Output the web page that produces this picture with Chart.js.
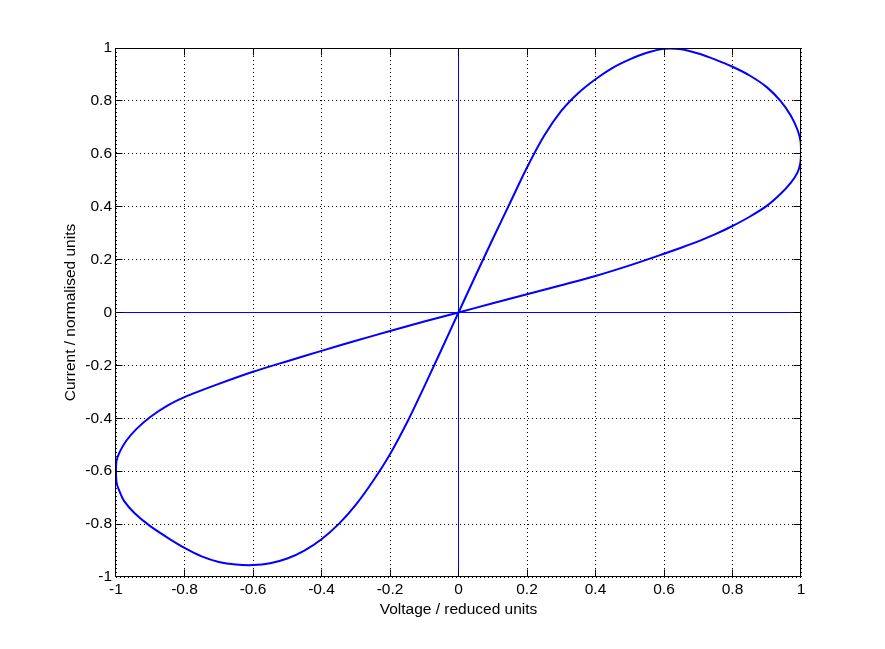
<!DOCTYPE html>
<html>
<head>
<meta charset="utf-8">
<script src="https://cdn.jsdelivr.net/npm/chart.js@4/dist/chart.umd.min.js"></script>
<style>
html,body{margin:0;padding:0;background:#fff;}
#c{display:block;}
</style>
</head>
<body>
<canvas id="c" width="885" height="649"></canvas>
<script>
// Pinched hysteresis loop
const curveX = [0, 0.05, 0.1, 0.15, 0.2, 0.25, 0.3, 0.35, 0.4, 0.45, 0.5, 0.55, 0.6, 0.65, 0.7, 0.75, 0.8, 0.85, 0.9, 0.94, 0.97, 0.99, 0.999, 1.0,
  0.998, 0.99, 0.97, 0.94, 0.9, 0.85, 0.8, 0.75, 0.7, 0.65, 0.6, 0.5, 0.4, 0.3, 0.2, 0.1, 0,
  -0.1, -0.2, -0.3, -0.4, -0.5, -0.6, -0.7, -0.8, -0.85, -0.9, -0.94, -0.97, -0.99, -0.999, -1.0,
  -0.998, -0.99, -0.976, -0.947, -0.903, -0.85, -0.8, -0.75, -0.7, -0.65, -0.6, -0.55, -0.5, -0.45, -0.4, -0.35, -0.3, -0.25, -0.2, -0.15, -0.1, -0.05, 0];
const curveY = [0, 0.14, 0.278, 0.413, 0.548, 0.668, 0.762, 0.83, 0.882, 0.925, 0.957, 0.982, 0.997, 0.995, 0.979, 0.956, 0.929, 0.896, 0.852, 0.8, 0.745, 0.69, 0.645, 0.6,
  0.565, 0.53, 0.49, 0.448, 0.403, 0.362, 0.327, 0.296, 0.269, 0.245, 0.222, 0.178, 0.138, 0.103, 0.069, 0.035, 0,
  -0.034, -0.07, -0.107, -0.145, -0.184, -0.224, -0.27, -0.32, -0.352, -0.395, -0.44, -0.485, -0.53, -0.565, -0.605,
  -0.645, -0.675, -0.713, -0.757, -0.805, -0.851, -0.89, -0.922, -0.943, -0.953, -0.955, -0.948, -0.93, -0.9, -0.857, -0.8, -0.727, -0.638, -0.536, -0.415, -0.28, -0.141, 0];
const xTicks = [-1, -0.8, -0.6, -0.4, -0.2, 0, 0.2, 0.4, 0.6, 0.8, 1];
const yTicks = [-1, -0.8, -0.6, -0.4, -0.2, 0, 0.2, 0.4, 0.6, 0.8, 1];
const xAxisLineX = [-1, 1];
const xAxisLineY = [0, 0];
const yAxisLineX = [0, 0];
const yAxisLineY = [-1, 1];
const xTitle = 'Voltage / reduced units';
const yTitle = 'Current / normalised units';

const toPts = (xs, ys) => xs.map((x, i) => ({x: x, y: ys[i]}));
const FONT = {family: '"Liberation Sans", Arial, Helvetica, sans-serif', size: 15.5};
const fmt = v => { const n = Math.round(v * 10) / 10; return (n === 0 ? 0 : n).toString(); };
const gridColor = c => (c.tick && Math.abs(c.tick.value) < 1e-9) ? 'rgba(0,0,0,0)' : '#000';

const boxPlugin = {
  id: 'boxTicks',
  afterDraw(chart) {
    const {ctx, chartArea: a, scales: {x, y}} = chart;
    ctx.save();
    ctx.strokeStyle = '#000';
    ctx.lineWidth = 1;
    ctx.beginPath();
    const L = Math.round(a.left) - 0.5, R = Math.round(a.right) - 0.5;
    const T = Math.round(a.top) + 0.5, B = Math.round(a.bottom) - 0.5;
    ctx.rect(L, T, R - L, B - T);
    const tl = 7;
    xTicks.forEach(v => {
      let px = Math.floor(x.getPixelForValue(v)) + 0.5;
      if (v === -1) px = L; if (v === 1) px = R;
      ctx.moveTo(px, B); ctx.lineTo(px, B - tl);
      ctx.moveTo(px, T); ctx.lineTo(px, T + tl);
    });
    yTicks.forEach(v => {
      let py = Math.floor(y.getPixelForValue(v)) + 0.5;
      if (v === 1) py = T; if (v === -1) py = B;
      ctx.moveTo(L, py); ctx.lineTo(L + tl, py);
      ctx.moveTo(R, py); ctx.lineTo(R - tl, py);
    });
    ctx.stroke();
    ctx.restore();
  }
};
const bgPlugin = {
  id: 'bg',
  beforeDraw(chart) {
    const ctx = chart.ctx;
    ctx.save(); ctx.fillStyle = '#fff'; ctx.fillRect(0, 0, chart.width, chart.height); ctx.restore();
  }
};

new Chart(document.getElementById('c'), {
  type: 'scatter',
  data: {
    datasets: [
      {data: toPts(curveX, curveY), showLine: true, borderColor: '#0000ff', borderWidth: 2, pointRadius: 0, tension: 0.3, fill: false},
      {data: toPts(xAxisLineX, xAxisLineY), showLine: true, borderColor: '#0000ff', borderWidth: 1, pointRadius: 0, tension: 0},
      {data: toPts(yAxisLineX, yAxisLineY), showLine: true, borderColor: '#0000ff', borderWidth: 1, pointRadius: 0, tension: 0}
    ]
  },
  options: {
    responsive: false,
    animation: false,
    layout: {padding: {left: 0, top: 48, right: 84, bottom: 0}},
    plugins: {legend: {display: false}, tooltip: {enabled: false}},
    scales: {
      x: {
        type: 'linear', min: -1, max: 1,
        afterBuildTicks: s => { s.ticks = xTicks.map(v => ({value: v})); },
        afterFit: s => { s.height = 72; s.paddingLeft = 0; s.paddingRight = 0; },
        ticks: {color: '#000', font: FONT, padding: 3, maxRotation: 0, autoSkip: false, callback: fmt},
        grid: {color: gridColor, lineWidth: 1, drawTicks: false},
        border: {display: false, dash: [1, 3]},
        title: {display: true, text: xTitle, color: '#000', font: FONT, padding: {top: 0, bottom: 30}}
      },
      y: {
        type: 'linear', min: -1, max: 1,
        afterBuildTicks: s => { s.ticks = yTicks.map(v => ({value: v})); },
        afterFit: s => { s.width = 116; s.paddingTop = 0; s.paddingBottom = 0; },
        ticks: {color: '#000', font: FONT, padding: 4, autoSkip: false, callback: fmt},
        grid: {color: gridColor, lineWidth: 1, drawTicks: false},
        border: {display: false, dash: [1, 3]},
        title: {display: true, text: yTitle, color: '#000', font: FONT, padding: {top: 61, bottom: 0}}
      }
    }
  },
  plugins: [bgPlugin, boxPlugin]
});
</script>
</body>
</html>
